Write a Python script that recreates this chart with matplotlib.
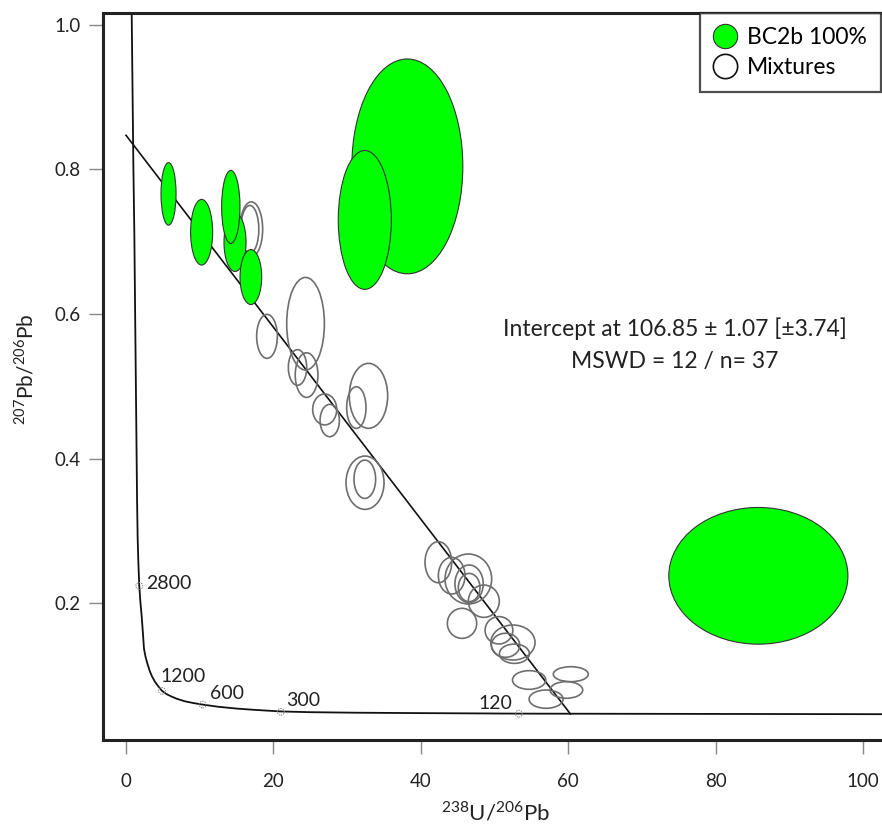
import numpy as np
import matplotlib
matplotlib.use('Agg')
import matplotlib.pyplot as plt
from matplotlib.patches import Ellipse
from matplotlib.lines import Line2D

plt.rcParams['font.family'] = ['Lato', 'DejaVu Sans']
plt.rcParams['mathtext.fontset'] = 'custom'
plt.rcParams['mathtext.rm'] = 'Lato'

# concordia curve (238U/206Pb, 207Pb/206Pb)
conc_x = [0.77, 0.90, 1.00, 1.13, 1.22, 1.36, 1.50, 1.58, 1.68, 1.80, 1.95, 2.13,
          2.30, 2.44, 2.65, 2.89, 3.20, 3.50, 3.93, 4.40, 4.88, 5.50, 6.20, 6.90,
          8.00, 9.20, 10.4, 12.5, 15.0, 17.3, 21.0, 25.0, 30.8, 40.0, 53.3, 104.0]
conc_y = [1.016, 0.896, 0.803, 0.711, 0.619, 0.481, 0.343, 0.290, 0.255, 0.224,
          0.202, 0.1815, 0.158, 0.137, 0.126, 0.117, 0.107, 0.0995, 0.0915, 0.085,
          0.079, 0.0745, 0.0710, 0.0680, 0.0645, 0.0620, 0.0600, 0.0570, 0.0545,
          0.0528, 0.0505, 0.0495, 0.0488, 0.0482, 0.0475, 0.0467]

# age markers on the concordia (Ma)
age_labels = ['2800', '1200', '600', '300', '120']
age_x = [1.8, 4.88, 10.4, 21.0, 53.3]
age_y = [0.224, 0.079, 0.060, 0.050, 0.0475]

# discordia line
disc_x = [0.0, 60.3]
disc_y = [0.847, 0.047]

# BC2b 100% ellipses: centre x, centre y, full width, full height
green_x = [38.17, 32.4, 5.77, 10.26, 14.79, 14.22, 16.94, 85.8]
green_y = [0.804, 0.730, 0.766, 0.713, 0.699, 0.748, 0.651, 0.238]
green_w = [15.06, 7.2, 2.04, 2.99, 2.99, 2.49, 2.94, 24.3]
green_h = [0.297, 0.192, 0.0865, 0.0908, 0.0806, 0.101, 0.076, 0.189]

# Mixtures ellipses
mix_x = [17.0, 16.8, 19.13, 24.36, 23.27, 24.5, 26.96, 27.64, 32.9, 31.25,
         32.43, 32.4, 42.38, 44.19, 46.45, 46.55, 46.56, 48.55, 45.59,
         50.6, 52.5, 51.5, 52.7, 54.7, 60.35, 59.75, 57.0]
mix_y = [0.717, 0.717, 0.569, 0.5865, 0.526, 0.5155, 0.468, 0.4527, 0.4868, 0.4706,
         0.3667, 0.3715, 0.2568, 0.2382, 0.2336, 0.227, 0.2218, 0.2029, 0.1723,
         0.1627, 0.1458, 0.142, 0.1303, 0.094, 0.102, 0.0802, 0.0675]
mix_w = [3.08, 2.44, 2.81, 5.11, 2.49, 3.08, 3.26, 2.62, 5.2, 2.62,
         5.16, 2.94, 3.62, 3.62, 6.33, 3.84, 2.94, 4.2, 3.98,
         3.76, 6.0, 3.84, 4.07, 4.52, 4.75, 4.43, 4.61]
mix_h = [0.076, 0.066, 0.0608, 0.128, 0.0493, 0.0617, 0.0428, 0.0447, 0.0898, 0.0576,
         0.0737, 0.053, 0.0567, 0.0507, 0.0691, 0.052, 0.039, 0.0447, 0.0415,
         0.0378, 0.0484, 0.0332, 0.0267, 0.0258, 0.0207, 0.023, 0.0253]

fig = plt.figure(figsize=(8.82, 8.30), dpi=100)
ax = fig.add_axes([0.1168, 0.1084, 0.8951, 0.8759])
ax.set_xlim(-3.12, 104)
ax.set_ylim(0.011, 1.016)

ax.plot(disc_x, disc_y, color='#111111', lw=1.2, zorder=2)
ax.plot(conc_x, conc_y, color='#111111', lw=1.3, zorder=2)
ax.scatter(age_x, age_y, s=24, facecolors='none', edgecolors='#888888',
           linewidths=0.7, linestyle=(0, (1.5, 1)), zorder=3)

offsets = [(5, 2), (-1, 10), (5, 8), (4, 8), (-5, 7)]
aligns = ['left', 'left', 'left', 'left', 'right']
for lab, x, y, off, ha in zip(age_labels, age_x, age_y, offsets, aligns):
    ax.annotate(lab, (x, y), xytext=off, textcoords='offset points',
                ha=ha, va='center', fontsize=14, color='#222222')

for x, y, w, h in zip(mix_x, mix_y, mix_w, mix_h):
    ax.add_patch(Ellipse((x, y), w, h, facecolor='none', edgecolor='#6e6e6e',
                         lw=1.2, zorder=4))

for x, y, w, h in zip(green_x, green_y, green_w, green_h):
    ax.add_patch(Ellipse((x, y), w, h, facecolor='#00ff00', edgecolor='#333333',
                         lw=0.8, zorder=5))

ax.text(74.5, 0.579, 'Intercept at 106.85 \u00b1 1.07 [\u00b13.74]', ha='center',
        va='center', fontsize=16.5, color='#222222')
ax.text(74.5, 0.534, 'MSWD = 12 / n= 37', ha='center', va='center',
        fontsize=16.5, color='#222222')

# axes styling
for side in ['left', 'bottom', 'top']:
    ax.spines[side].set_linewidth(2.2)
    ax.spines[side].set_color('#222222')
ax.spines['right'].set_visible(False)
ax.set_xticks([0, 20, 40, 60, 80, 100])
ax.set_yticks([0.2, 0.4, 0.6, 0.8, 1.0])
ax.set_yticklabels(['0.2', '0.4', '0.6', '0.8', '1.0'])
ax.tick_params(axis='both', direction='out', length=10, width=1, color='#888888',
               labelsize=13.5, labelcolor='#222222')
ax.tick_params(axis='x', pad=14)
ax.tick_params(axis='y', pad=6)

ax.set_xlabel(r'$^{238}$U/$^{206}$Pb', fontsize=16, color='#222222')
ax.set_ylabel(r'$^{207}$Pb/$^{206}$Pb', fontsize=15, color='#222222')
ax.xaxis.set_label_coords(0.497, -0.083)
ax.yaxis.set_label_coords(-0.084, 0.51)

handles = [Line2D([], [], marker='o', ls='none', markersize=17.5,
                  markerfacecolor='#00ff00', markeredgecolor='#333333', markeredgewidth=0.8),
           Line2D([], [], marker='o', ls='none', markersize=17.5,
                  markerfacecolor='white', markeredgecolor='#111111', markeredgewidth=1.2)]
leg = ax.legend(handles, ['BC2b 100%', 'Mixtures'], loc='upper left',
                bbox_to_anchor=(700 / 882, 1 - 13 / 830), bbox_transform=fig.transFigure,
                fontsize=16.5, frameon=True, fancybox=False, borderpad=0.6,
                labelspacing=0.4, handlelength=1.0, handletextpad=0.45,
                borderaxespad=0)
leg.get_frame().set_edgecolor('#222222')
leg.get_frame().set_linewidth(1.6)

fig.savefig('out.png', dpi=100)
